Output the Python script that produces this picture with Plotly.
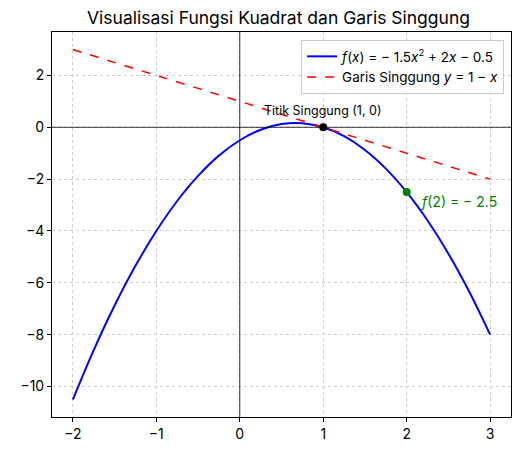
"""
Fungsi kuadrat dan garis singgung di titik (1, 0)
"""
import plotly.graph_objects as go

# titik-titik kurva f(x) = -1.5x^2 + 2x - 0.5
curve_x = [-2, -1.75, -1.5, -1.25, -1, -0.75, -0.5, -0.25, 0, 0.25, 0.5,
           0.75, 1, 1.25, 1.5, 1.75, 2, 2.25, 2.5, 2.75, 3]
curve_y = [-10.5, -8.59375, -6.875, -5.34375, -4, -2.84375, -1.875, -1.09375,
           -0.5, -0.09375, 0.125, 0.15625, 0, -0.34375, -0.875, -1.59375,
           -2.5, -3.59375, -4.875, -6.34375, -8]

# garis singgung y = 1 - x
tangent_x = [-2, 3]
tangent_y = [3, -2]

# titik khusus
tangent_point = (1, 0)
eval_point = (2, -2.5)

x_ticks = [-2, -1, 0, 1, 2, 3]
y_ticks = [-10, -8, -6, -4, -2, 0, 2]

FONT = "Inter"

fig = go.Figure()

fig.add_trace(go.Scatter(
    x=curve_x, y=curve_y, mode="lines", line=dict(color="blue", width=2, shape="spline"),
    name="<i>f</i>(<i>x</i>) = − 1.5<i>x</i><sup>2</sup> + 2<i>x</i> − 0.5",
))
fig.add_trace(go.Scatter(
    x=tangent_x, y=tangent_y, mode="lines", line=dict(color="red", width=1.5, dash="dash"),
    name="Garis Singgung <i>y</i> = 1 − <i>x</i>",
))
fig.add_trace(go.Scatter(
    x=[tangent_point[0]], y=[tangent_point[1]], mode="markers",
    marker=dict(color="black", size=8), showlegend=False,
))
fig.add_trace(go.Scatter(
    x=[eval_point[0]], y=[eval_point[1]], mode="markers",
    marker=dict(color="green", size=8), showlegend=False,
))

fig.add_annotation(x=tangent_point[0], y=tangent_point[1], text="Titik Singgung (1, 0)",
                   showarrow=False, yshift=17, xshift=0,
                   font=dict(size=12.5, color="black", family=FONT))
fig.add_annotation(x=eval_point[0], y=eval_point[1],
                   text="<i>f</i>(2) = − 2.5", showarrow=False, xanchor="left",
                   xshift=11, yshift=-9, font=dict(size=14, color="green", family=FONT))

# sumbu nol
fig.add_hline(y=0, line=dict(color="black", width=0.8))
fig.add_vline(x=0, line=dict(color="black", width=0.8))

axis_style = dict(
    showline=True, mirror=True, linecolor="black", linewidth=1,
    ticks="outside", ticklen=4, tickcolor="black",
    showgrid=True, gridcolor="#cccccc", griddash="dot", gridwidth=0.8,
    zeroline=False, tickfont=dict(size=14, color="black", family=FONT),
)

fig.update_xaxes(range=[-2.25, 3.25], tickvals=x_ticks, **axis_style)
fig.update_yaxes(range=[-11.175, 3.675], tickvals=y_ticks, **axis_style)

# halaman HTML punya margin body 8px, jadi margin di sini dikurangi 8
fig.update_layout(
    width=521, height=453,
    margin=dict(l=38, r=18, t=24, b=44),
    plot_bgcolor="white", paper_bgcolor="white",
    title=dict(text="Visualisasi Fungsi Kuadrat dan Garis Singgung",
               x=(38 + 503) / 2 / 521, xanchor="center", y=1 - 4 / 453, yanchor="top",
               font=dict(size=17.5, color="black", family=FONT)),
    legend=dict(x=0.985, y=0.979, xanchor="right", yanchor="top",
                bgcolor="rgba(255,255,255,0.8)", bordercolor="#cccccc", borderwidth=1,
                font=dict(size=13.5, color="black", family=FONT)),
    font=dict(family=FONT),
)

fig.write_html("out.html")
